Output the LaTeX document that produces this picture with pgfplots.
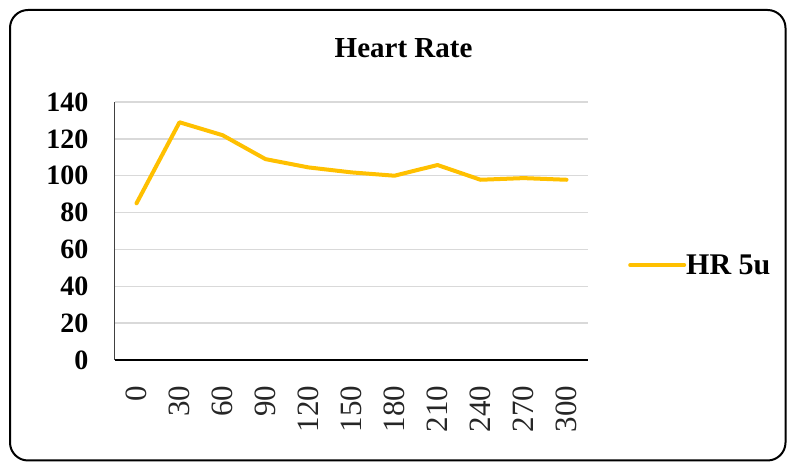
\documentclass[border=0pt]{standalone}
\usepackage{pgfplots}
\pgfplotsset{compat=1.18}
\usepackage{fontspec}
\setmainfont{Liberation Serif}
\definecolor{hrline}{HTML}{FFC000}
\definecolor{gridc}{HTML}{D9D9D9}
\begin{document}
\begin{tikzpicture}
\useasboundingbox (0pt,0pt) rectangle (787pt,462pt);
\draw[line width=2pt, rounded corners=18pt] (10pt,1.5pt) rectangle (785.5pt,452pt);
\begin{axis}[
  at={(115pt,102pt)}, anchor=south west,
  scale only axis, width=473pt, height=258pt,
  xmin=-0.5, xmax=10.5, ymin=0, ymax=140,
  xtick={0,1,2,3,4,5,6,7,8,9,10},
  xticklabels={0,30,60,90,120,150,180,210,240,270,300},
  ytick={0,20,40,60,80,100,120,140},
  axis x line*=bottom, axis y line*=left,
  x axis line style={-, black, line width=1.2pt},
  y axis line style={-, black!75, line width=1pt},
  major tick length=0pt,
  ymajorgrids, grid style={gridc, line width=1.5pt},
  yticklabel style={font=\fontsize{28}{30}\selectfont\bfseries, anchor=east, xshift=-23pt},
  xticklabel style={font=\fontsize{31}{33}\selectfont, rotate=90, anchor=east, xshift=-22pt, text=black!85},
  /pgf/number format/assume math mode=true,
  title={Heart Rate},
  title style={font=\fontsize{29}{31}\selectfont\bfseries, at={(0.61,1)}, anchor=base, yshift=38pt},
  legend style={at={(1.0846,0.368)}, anchor=west, draw=none, fill=none, inner sep=0pt,
    font=\fontsize{30}{32}\selectfont\bfseries, nodes={inner sep=0pt, text depth=0pt}},
  legend image code/.code={\draw[#1] (0pt,0pt) -- (54pt,0pt);},
  legend cell align=left,
  every axis legend/.append style={/tikz/every even column/.style={column sep=5pt}},
]
\addplot[hrline, line width=4pt, line join=round, line cap=round] coordinates {
(0,85) (1,129) (2,122) (3,109) (4,104.5) (5,101.8) (6,100) (7,105.8) (8,97.8) (9,98.7) (10,97.8)};
\addlegendentry{HR 5u}
\end{axis}
\end{tikzpicture}
\end{document}
